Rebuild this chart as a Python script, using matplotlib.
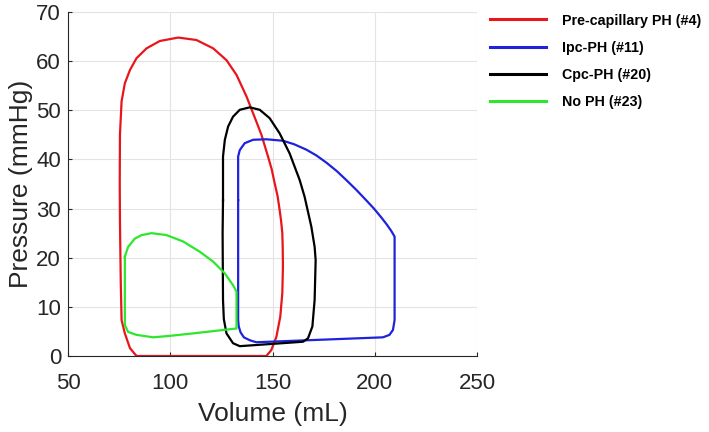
import matplotlib
matplotlib.use("Agg")
import matplotlib.pyplot as plt

plt.rcParams['font.family'] = ['Liberation Sans', 'DejaVu Sans']

labels = ["Pre-capillary PH (#4)", "Ipc-PH (#11)", "Cpc-PH (#20)", "No PH (#23)"]
colors = ["#e8161b", "#1f22dc", "#000000", "#2ee62e"]

pre_v = [83.5, 100, 120, 147.0, 149.4, 151.9, 153.8, 154.8, 155.1, 155.0, 154.8, 154.2, 153.5, 152.5,
         151.1, 149.6, 147.8, 144.6, 142.1, 137.3, 132.4, 127.5, 121.0, 112.8, 103.9, 94.9, 88.4,
         83.5, 80.3, 77.8, 76.2, 75.4, 75.3, 75.4, 75.8, 76.2, 77.8, 80.3, 83.5]
pre_p = [0.0, 0.0, 0.0, 0.0, 1.2, 3.9, 8.0, 12.8, 18.2, 22.0, 25.0, 27.5, 29.7, 32.5,
         35.1, 38.0, 40.6, 45.0, 47.7, 52.8, 57.2, 60.2, 62.6, 64.3, 64.8, 64.1, 62.6,
         60.6, 58.2, 55.5, 51.8, 45.0, 35.0, 27.7, 15.0, 7.3, 4.6, 1.6, 0.0]

ipc_v = [133.2, 133.2, 134.0, 136.4, 140.5, 147.0, 155.1, 160.5, 166.5, 171.5, 176.5, 181.5, 186.1,
         191.0, 195.8, 199.6, 203.2, 205.8, 208.0, 209.7, 209.7, 208.9, 207.2, 204.0, 142.1, 138.9,
         136.0, 134.4, 133.5, 133.2, 133.2]
ipc_p = [31.7, 40.6, 41.9, 43.3, 44.0, 44.1, 43.8, 43.1, 42.0, 40.8, 39.3, 37.6, 35.8,
         33.8, 31.7, 30.0, 28.2, 26.8, 25.5, 24.3, 7.3, 5.3, 4.3, 3.8, 2.8, 3.2,
         3.8, 4.8, 6.0, 7.3, 31.7]

cpc_v = [125.8, 125.8, 126.7, 128.3, 130.7, 134.0, 138.9, 143.75, 148.6, 153.5, 158.4, 163.3, 165.7,
         169.0, 170.6, 171.1, 170.6, 169.5, 167.35, 164.9, 134.0, 130.7, 127.5, 126.2, 125.8,
         125.6, 125.8]
cpc_p = [31.7, 40.6, 44.0, 46.7, 48.7, 50.1, 50.6, 50.1, 48.4, 45.3, 41.2, 35.8, 32.4,
         26.3, 22.2, 19.5, 11.4, 6.0, 3.6, 2.9, 2.0, 2.6, 4.6, 7.5, 11.4, 25.0, 31.7]

nph_v = [77.8, 79.4, 82.7, 86.0, 90.9, 98.2, 106.3, 114.5, 121.0, 126.7, 130.7, 132.4, 132.4,
         111.2, 99.8, 91.7, 83.5, 79.4, 77.8, 77.8]
nph_p = [20.2, 22.2, 23.9, 24.6, 25.0, 24.6, 23.3, 21.2, 19.2, 16.8, 14.4, 13.1, 5.6,
         4.6, 4.1, 3.8, 4.3, 4.9, 6.3, 20.2]

x_ticks = [50, 100, 150, 200, 250]
y_ticks = [0, 10, 20, 30, 40, 50, 60, 70]

fig = plt.figure(figsize=(7.09, 4.32), dpi=100)
ax = fig.add_axes([68/709, 1-356/432, (477-68)/709, (356-12)/432])

series = [(pre_v, pre_p), (ipc_v, ipc_p), (cpc_v, cpc_p), (nph_v, nph_p)]
handles = []
for (v, p), c, lab in zip(series, colors, labels):
    h, = ax.plot(v, p, color=c, lw=1.6, label=lab, solid_joinstyle='round')
    handles.append(h)

ax.set_xlim(50, 250)
ax.set_ylim(0, 70)
ax.set_xticks(x_ticks)
ax.set_yticks(y_ticks)
ax.grid(True, color='#e3e3e3', lw=0.8)
ax.set_axisbelow(True)
for s in ['top', 'right']:
    ax.spines[s].set_visible(False)
for s in ['left', 'bottom']:
    ax.spines[s].set_color('#262626')
    ax.spines[s].set_linewidth(0.8)
ax.tick_params(direction='in', length=3, width=0.8, colors='#262626', labelsize=16, pad=4)
ax.tick_params(axis='x', pad=12)
ax.tick_params(axis='y', pad=5)
ax.set_xlabel("Volume (mL)", fontsize=19, color='#262626', labelpad=6)
ax.set_ylabel("Pressure (mmHg)", fontsize=19, color='#262626', labelpad=2)

leg = fig.legend(handles=handles, loc='upper left', bbox_to_anchor=(490/709, 1-13.5/432),
                 frameon=False, borderpad=0, borderaxespad=0, handlelength=3.9,
                 handletextpad=1.15, labelspacing=0.93,
                 prop={'weight': 'bold', 'size': 10.3})
for line in leg.get_lines():
    line.set_linewidth(2.2)

fig.savefig("out.png", dpi=100)
